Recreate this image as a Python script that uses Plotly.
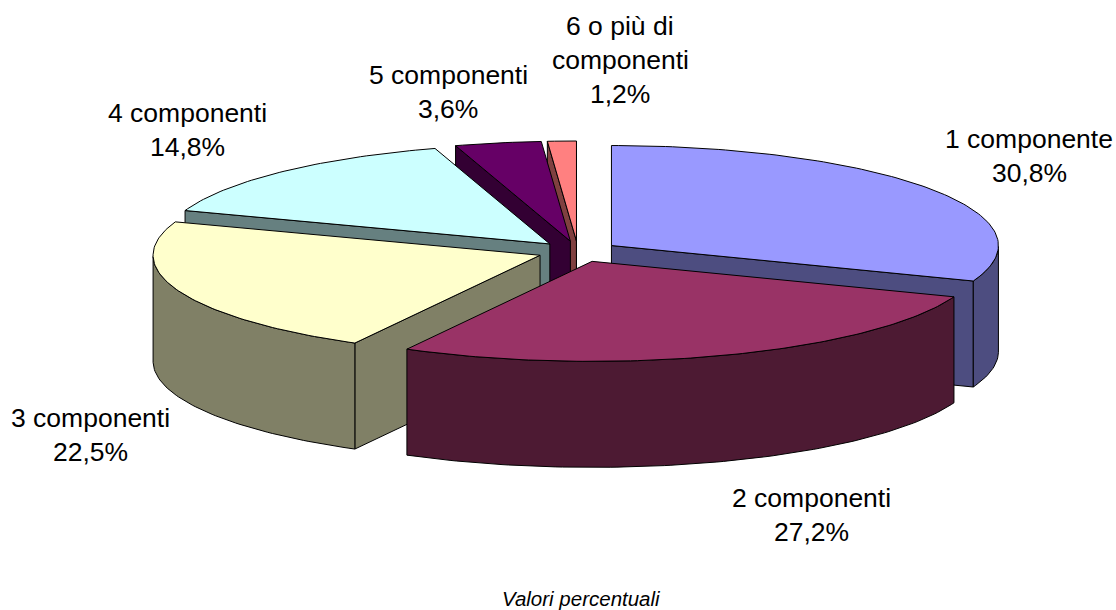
import math
import plotly.graph_objects as go

categories = ["1 componente", "2 componenti", "3 componenti", "4 componenti", "5 componenti", "6 o più di<br>componenti"]
values = [30.8, 27.2, 22.5, 14.8, 3.6, 1.2]
top_colors = ["#9999FF", "#993366", "#FFFFCC", "#CCFFFF", "#660066", "#FF8080"]
side_colors = ["#4D4D80", "#4D1A33", "#808066", "#668080", "#330033", "#804040"]
label_centers = [(1029, 156), (811, 515), (90, 435), (187, 130), (448, 92), (620, 60)]
draw_order = [5, 4, 3, 0, 2, 1]

CX, CY, RX, RY, DEPTH, PULL = 578, 251.5, 387, 100, 106, 0.105
LINE_GAP = 34
FONT = "Liberation Sans, Arial, sans-serif"

total = sum(values)
edges = [0.0]
for v in values:
    edges.append(edges[-1] + v / total * 2 * math.pi)


def pt(ax, ay, t, dy=0.0):
    return ax + RX * math.sin(t), ay - RY * math.cos(t) + dy


def poly(pts, color):
    xs = [p[0] for p in pts] + [pts[0][0]]
    ys = [p[1] for p in pts] + [pts[0][1]]
    return go.Scatter(x=xs, y=ys, mode="lines", fill="toself", fillcolor=color,
                      line=dict(color="#000000", width=1), hoverinfo="skip", showlegend=False)


fig = go.Figure()
for i in draw_order:
    a0, a1 = edges[i], edges[i + 1]
    mid = (a0 + a1) / 2
    ax = CX + PULL * RX * math.sin(mid)
    ay = CY - PULL * RY * math.cos(mid)
    steps = max(4, int((a1 - a0) / math.radians(1)))
    ts = [a0 + (a1 - a0) * k / steps for k in range(steps + 1)]
    if math.sin(a0) < 0:  # start cut faces the viewer
        e = pt(ax, ay, a0)
        fig.add_trace(poly([(ax, ay), e, (e[0], e[1] + DEPTH), (ax, ay + DEPTH)], side_colors[i]))
    if math.sin(a1) > 0:  # end cut faces the viewer
        e = pt(ax, ay, a1)
        fig.add_trace(poly([(ax, ay), e, (e[0], e[1] + DEPTH), (ax, ay + DEPTH)], side_colors[i]))
    front = [t for t in ts if math.cos(t) <= 0]
    if len(front) > 1:
        upper = [pt(ax, ay, t) for t in front]
        lower = [pt(ax, ay, t, DEPTH) for t in reversed(front)]
        fig.add_trace(poly(upper + lower, side_colors[i]))
    fig.add_trace(poly([(ax, ay)] + [pt(ax, ay, t) for t in ts], top_colors[i]))

annotations = []
for cat, v, (lx, ly) in zip(categories, values, label_centers):
    lines = cat.split("<br>") + [f"{v:.1f}%".replace(".", ",")]
    start = ly - LINE_GAP * (len(lines) - 1) / 2
    for n, line in enumerate(lines):
        annotations.append(dict(x=lx, y=start + n * LINE_GAP, text=line, showarrow=False,
                                xanchor="center", yanchor="middle",
                                font=dict(family=FONT, size=26.5, color="#000000")))
annotations.append(dict(x=581, y=598, text="<i>Valori percentuali</i>", showarrow=False,
                        xanchor="center", yanchor="middle",
                        font=dict(family=FONT, size=20.5, color="#000000")))

fig.update_layout(
    width=1116, height=610, margin=dict(l=0, r=0, t=0, b=0),
    paper_bgcolor="#FFFFFF", plot_bgcolor="#FFFFFF", showlegend=False,
    xaxis=dict(range=[0, 1116], visible=False, fixedrange=True),
    yaxis=dict(range=[610, 0], visible=False, fixedrange=True),
    annotations=annotations,
)
fig.write_html("out.html", config=dict(displayModeBar=False),
               post_script="document.body.style.margin='0';document.documentElement.style.overflow='hidden';")
